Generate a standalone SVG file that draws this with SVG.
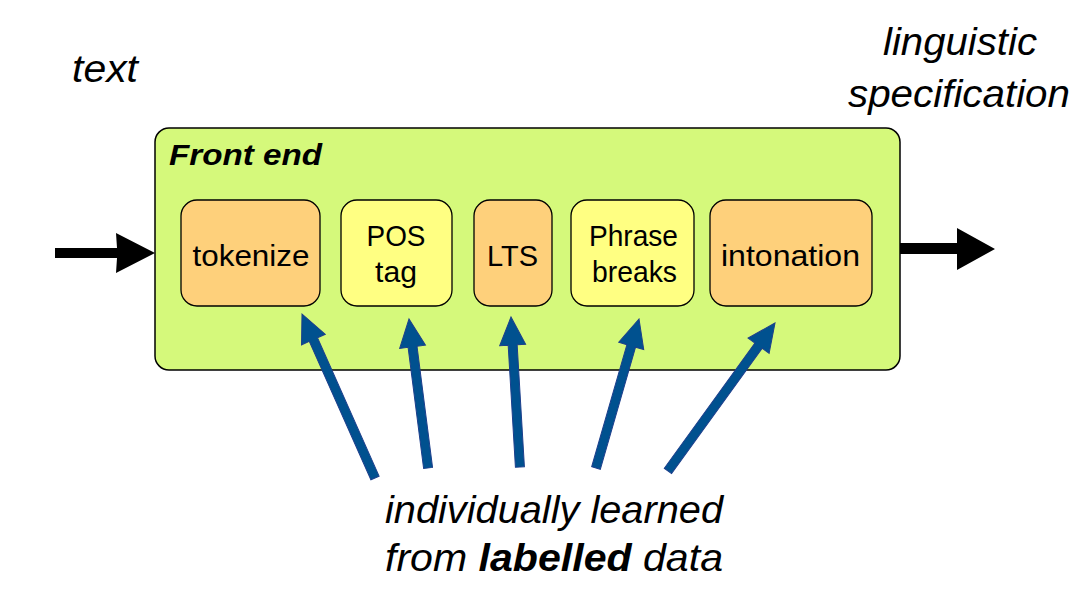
<svg xmlns="http://www.w3.org/2000/svg" width="1079" height="590" viewBox="0 0 1079 590">
<style>
.lbl{font-family:"Liberation Sans",Arial,sans-serif;font-size:29px;fill:#000;text-anchor:middle}
.it{font-family:"Liberation Sans",Arial,sans-serif;font-style:italic;fill:#000}
.orange{fill:#fed07b;stroke:#000;stroke-width:1.3}
.yellow{fill:#ffff82;stroke:#000;stroke-width:1.3}
.blue{fill:#00518f;stroke:#1d3f8c;stroke-width:1}
</style>
<rect width="1079" height="590" fill="#fff"/>
<g id="frontend">
<rect x="155" y="128" width="745" height="242" rx="14" fill="#d5f97b" stroke="#000" stroke-width="1.5"/>
<text class="it" x="169" y="165" font-size="29" font-weight="bold" textLength="153" lengthAdjust="spacingAndGlyphs">Front end</text>
</g>
<g id="tokenize"><rect class="orange" x="181" y="200" width="139" height="106" rx="16"/><text class="lbl" x="251" y="266" textLength="117" lengthAdjust="spacingAndGlyphs">tokenize</text></g>
<g id="pos"><rect class="yellow" x="341" y="200" width="111" height="106" rx="16"/><text class="lbl" x="396" y="246" textLength="59" lengthAdjust="spacingAndGlyphs">POS</text><text class="lbl" x="396" y="282" textLength="42" lengthAdjust="spacingAndGlyphs">tag</text></g>
<g id="lts"><rect class="orange" x="474" y="200" width="78" height="106" rx="16"/><text class="lbl" x="512.5" y="266" textLength="51" lengthAdjust="spacingAndGlyphs">LTS</text></g>
<g id="phrase"><rect class="yellow" x="571" y="200" width="123" height="106" rx="16"/><text class="lbl" x="633.5" y="246" textLength="89" lengthAdjust="spacingAndGlyphs">Phrase</text><text class="lbl" x="634.5" y="282" textLength="85" lengthAdjust="spacingAndGlyphs">breaks</text></g>
<g id="intonation"><rect class="orange" x="710" y="200" width="162" height="106" rx="16"/><text class="lbl" x="790.5" y="266" textLength="139" lengthAdjust="spacingAndGlyphs">intonation</text></g>
<g id="labels">
<text class="it" x="72" y="82" font-size="38" textLength="66" lengthAdjust="spacingAndGlyphs">text</text>
<text class="it" x="883" y="55" font-size="38" textLength="154" lengthAdjust="spacingAndGlyphs">linguistic</text>
<text class="it" x="848" y="107" font-size="38" textLength="222" lengthAdjust="spacingAndGlyphs">specification</text>
<text class="it" x="385" y="523" font-size="38" textLength="338" lengthAdjust="spacingAndGlyphs">individually learned</text>
<text class="it" x="385" y="571" font-size="38" textLength="338" lengthAdjust="spacingAndGlyphs">from <tspan font-weight="bold">labelled</tspan> data</text>
</g>
<g id="connectors">
<polygon points="55,248 117,248 116,233 155,253 116,273 117,258 55,258" fill="#000"/>
<polygon points="900,243 957,243 957,228 995,249 957,270 957,254 900,254" fill="#000"/>
<g transform="translate(302,314) rotate(-114)"><polygon class="blue" points="0,0 -28,-13 -28,-4.5 -179.5,-4.5 -179.5,4.5 -28,4.5 -28,13"/></g>
<g transform="translate(409,319) rotate(-97.3)"><polygon class="blue" points="0,0 -28,-13 -28,-4.5 -150.2,-4.5 -150.2,4.5 -28,4.5 -28,13"/></g>
<g transform="translate(511,317) rotate(-93.4)"><polygon class="blue" points="0,0 -28,-13 -28,-4.5 -150.3,-4.5 -150.3,4.5 -28,4.5 -28,13"/></g>
<g transform="translate(639,319) rotate(-73.9)"><polygon class="blue" points="0,0 -28,-13 -28,-4.5 -155.1,-4.5 -155.1,4.5 -28,4.5 -28,13"/></g>
<g transform="translate(775,323) rotate(-54.1)"><polygon class="blue" points="0,0 -28,-13 -28,-4.5 -182.6,-4.5 -182.6,4.5 -28,4.5 -28,13"/></g>
</g>
</svg>
